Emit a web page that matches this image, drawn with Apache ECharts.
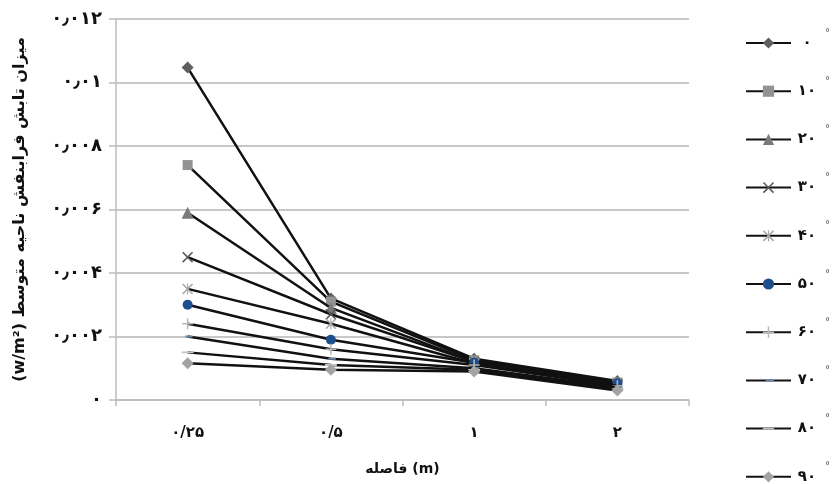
<!DOCTYPE html>
<html><head><meta charset="utf-8">
<script src="https://cdn.jsdelivr.net/npm/echarts@6/dist/echarts.min.js"></script>
<style>html,body{margin:0;padding:0;background:#fff}#c{width:834px;height:484px}</style>
</head><body><div id="c"></div>
<script>
var categories = ['۰/۲۵', '۰/۵', '۱', '۲'];
var seriesNames = ['۰', '۱۰', '۲۰', '۳۰', '۴۰', '۵۰', '۶۰', '۷۰', '۸۰', '۹۰'];
var s0  = [0.01047, 0.0032, 0.0013, 0.0006];
var s10 = [0.0074, 0.0031, 0.00125, 0.00055];
var s20 = [0.0059, 0.0029, 0.0012, 0.0005];
var s30 = [0.0045, 0.0027, 0.0012, 0.0005];
var s40 = [0.0035, 0.0024, 0.00115, 0.00045];
var s50 = [0.0030, 0.0019, 0.00117, 0.00053];
var s60 = [0.0024, 0.0016, 0.0011, 0.00045];
var s70 = [0.0020, 0.0013, 0.0010, 0.0004];
var s80 = [0.0015, 0.0011, 0.00095, 0.00035];
var s90 = [0.00116, 0.00095, 0.0009, 0.0003];
var yTickLabels = {'0': '۰', '0.002': '۰٫۰۰۲', '0.004': '۰٫۰۰۴', '0.006': '۰٫۰۰۶', '0.008': '۰٫۰۰۸', '0.01': '۰٫۰۱', '0.012': '۰٫۰۱۲'};
var yTitle = '(w/m²) میزان تابش فرابنفش ناحیه متوسط';
var xTitle = 'فاصله (m)';

var allData = [s0, s10, s20, s30, s40, s50, s60, s70, s80, s90];
var symbols = [
  {s: 'diamond', size: 12, c: '#5f5f5f'},
  {s: 'rect', size: 10, c: '#939393'},
  {s: 'triangle', size: 12, c: '#7a7a7a'},
  {s: 'path://M0,1L1,0L5,4L9,0L10,1L6,5L10,9L9,10L5,6L1,10L0,9L4,5Z', size: 11, c: '#595959'},
  {s: 'path://M0,1L1,0L4.5,3.5V0H5.5V3.5L9,0L10,1L6,5L10,9L9,10L5.5,6.5V10H4.5V6.5L1,10L0,9L4,5Z', size: 11, c: '#a8a8a8'},
  {s: 'circle', size: 10, c: '#1f4e8c'},
  {s: 'path://M4.3,0H5.7V4.3H10V5.7H5.7V10H4.3V5.7H0V4.3H4.3Z', size: 11, c: '#b8b8b8'},
  {s: 'path://M0,0L0,0ZM0,10L0,10ZM2,3.9H8V6.1H2Z', size: 10, c: '#6d87a8'},
  {s: 'path://M0,0L0,0ZM0,10L0,10ZM0,4.2H10V5.8H0Z', size: 12, c: '#c4c4c4'},
  {s: 'diamond', size: 12, c: '#a3a3a3'}
];
var series = seriesNames.map(function (n, i) {
  return {
    name: n, type: 'line', data: allData[i],
    symbol: symbols[i].s, symbolSize: symbols[i].size,
    showAllSymbol: true,
    lineStyle: {color: '#111', width: 2.5},
    itemStyle: {color: symbols[i].c, borderWidth: 0},
    z: 2 + i
  };
});
var chart = echarts.init(document.getElementById('c'));
chart.setOption({
  animation: false,
  backgroundColor: '#fff',
  textStyle: {fontFamily: 'DejaVu Sans'},
  grid: {left: 116, right: 145, top: 19, bottom: 84},
  legend: {
    orient: 'vertical', left: 745, top: 28, height: 475, padding: 0,
    itemWidth: 45, itemHeight: 14, itemGap: 18.2,
    data: seriesNames,
    formatter: function (n) { return '{n|' + n + '}{d|°}'; },
    textStyle: {
      rich: {
        n: {fontSize: 15, fontWeight: 'bold', color: '#111', width: 22, align: 'right', height: 30, lineHeight: 30, fontFamily: 'DejaVu Sans'},
        d: {fontSize: 10, color: '#555', verticalAlign: 'top', lineHeight: 24, padding: [0, 0, 0, 7], fontFamily: 'DejaVu Sans'}
      }
    }
  },
  xAxis: {
    type: 'category', data: categories, boundaryGap: true,
    name: xTitle, nameLocation: 'middle', nameGap: 62,
    nameTextStyle: {fontSize: 14, fontWeight: 'bold', color: '#111', fontFamily: 'DejaVu Sans'},
    axisLine: {lineStyle: {color: '#bdbdbd', width: 1.5}},
    axisTick: {show: true, length: 6, lineStyle: {color: '#bdbdbd', width: 1.5}},
    axisLabel: {fontSize: 15, fontWeight: 'bold', color: '#111', margin: 26},
    splitLine: {show: false}
  },
  yAxis: {
    type: 'value', min: 0, max: 0.012, interval: 0.002,
    name: yTitle, nameLocation: 'middle', nameGap: 88, nameRotate: 90,
    nameTextStyle: {fontSize: 16, fontWeight: 'bold', color: '#111', fontFamily: 'DejaVu Sans'},
    axisLine: {show: true, lineStyle: {color: '#bdbdbd', width: 1.5}},
    axisTick: {show: true, length: 7, lineStyle: {color: '#bdbdbd', width: 1.5}},
    axisLabel: {
      fontSize: 18, fontWeight: 'bold', color: '#111', margin: 14,
      formatter: function (v) { var k = String(+v.toFixed(4)); return yTickLabels[k] !== undefined ? yTickLabels[k] : k; }
    },
    splitLine: {lineStyle: {color: '#c8c8c8', width: 2}}
  },
  series: series
});
</script></body></html>
